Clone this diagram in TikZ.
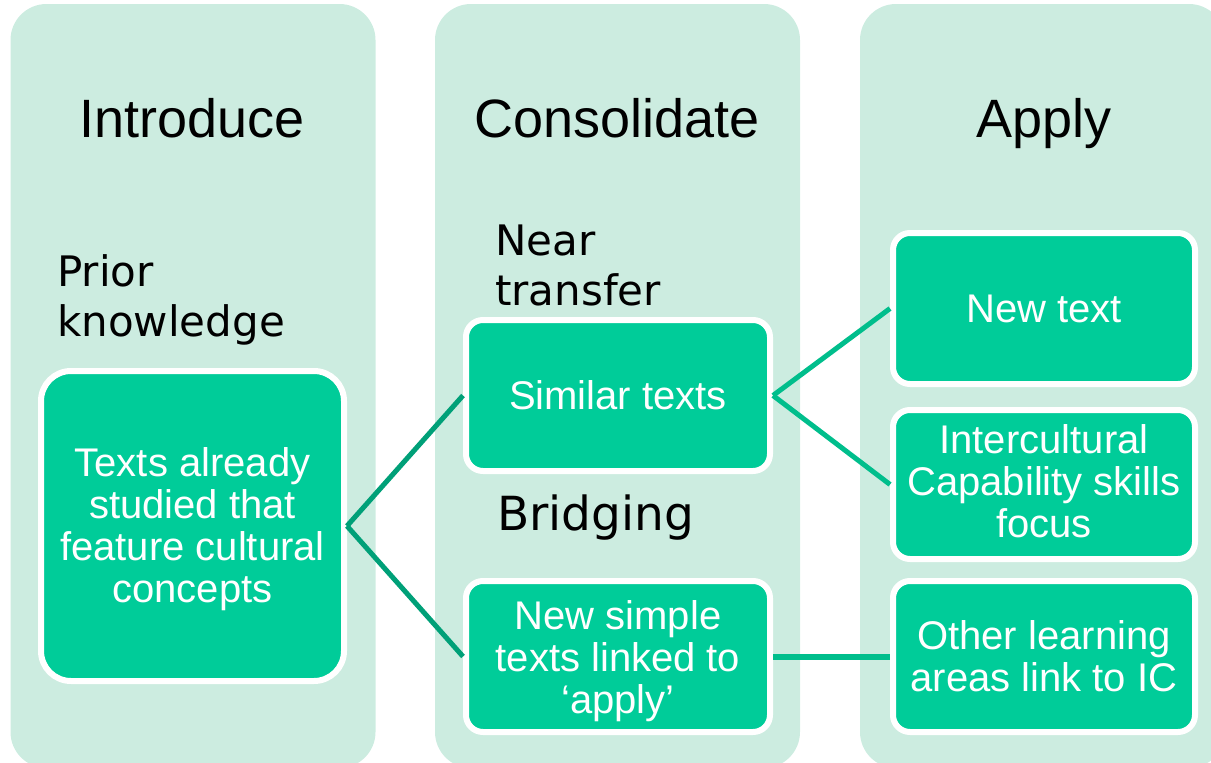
\documentclass[tikz,border=0pt]{standalone}
\usepackage{fontspec}
\setmainfont{Liberation Sans}
\newfontfamily\labelfont{DejaVu Sans}

\definecolor{panelbg}{RGB}{204,236,224}
\definecolor{boxfill}{RGB}{0,204,153}
\definecolor{linkdark}{RGB}{0,160,120}
\definecolor{linklight}{RGB}{0,190,140}

\tikzset{
  panel/.style={rectangle, rounded corners=36pt, fill=panelbg, draw=none,
    inner sep=0pt, outer sep=0pt, minimum width=365pt, minimum height=764pt},
  phase/.style={inner sep=0pt, font=\fontsize{54}{60}\selectfont, text=black},
  stepbox/.style={rectangle, rounded corners=17pt, fill=boxfill, draw=white,
    line width=6pt, text=white, align=center, inner sep=0pt,
    minimum width=304pt, minimum height=151pt,
    font=\fontsize{40}{42}\selectfont},
  sublabel/.style={inner sep=0pt, align=left, text=black,
    font=\labelfont\fontsize{42}{50}\selectfont},
  linkL/.style={draw=linkdark, line width=5pt},
  linkR/.style={draw=linklight, line width=5pt},
}

\begin{document}
\begin{tikzpicture}[x=1pt, y=-1pt]
\useasboundingbox (0,0) rectangle (1211,763);
\clip (0,0) rectangle (1211,763);

% three phase columns
\node[panel] (colA) at (193,386) {};
\node[panel] (colB) at (617.5,386) {};
\node[panel] (colC) at (1042.5,386) {};

% column headings
\node[phase, anchor=base] (tIntro) at (192,137) {Introduce};
\node[phase, anchor=base] (tCons) at (617,137) {Consolidate};
\node[phase, anchor=base] (tApply) at (1044,137) {Apply};

% side labels (base anchor sits on the last line)
\node[sublabel, anchor=base west] (prior) at (57,336) {Prior\\knowledge};
\node[sublabel, anchor=base west] (near) at (495,305) {Near\\transfer};
\node[sublabel, anchor=base west, font=\labelfont\fontsize{47}{56}\selectfont]
  (bridge) at (497,530) {Bridging};

% content boxes
\node[stepbox, rounded corners=30pt, minimum width=303pt, minimum height=310pt]
  (known) at (192.5,526) {\rule{0pt}{36pt}Texts already\\studied that\\feature cultural\\concepts};
\node[stepbox] (similar) at (618,395.5) {Similar texts};
\node[stepbox] (simple) at (618,656.5) {\rule{0pt}{39pt}New simple\\texts linked to\\‘apply’};
\node[stepbox, minimum width=302pt] (newtext) at (1044,308.5) {New text};
\node[stepbox, minimum width=302pt, minimum height=149pt]
  (icskills) at (1044,484.5) {Intercultural\\Capability skills\\focus\rule[-6pt]{0pt}{6pt}};
\node[stepbox, minimum width=302pt] (otherla) at (1044,656.5) {Other learning\\areas link to IC};

% connectors
\draw[linkL] (known.east) -- (similar.west);
\draw[linkL] (known.east) -- (simple.west);
\draw[linkR] (similar.east) -- (newtext.west);
\draw[linkR] (similar.east) -- (icskills.west);
\draw[linkR, line width=6pt] (simple.east) -- (otherla.west);
\end{tikzpicture}
\end{document}
